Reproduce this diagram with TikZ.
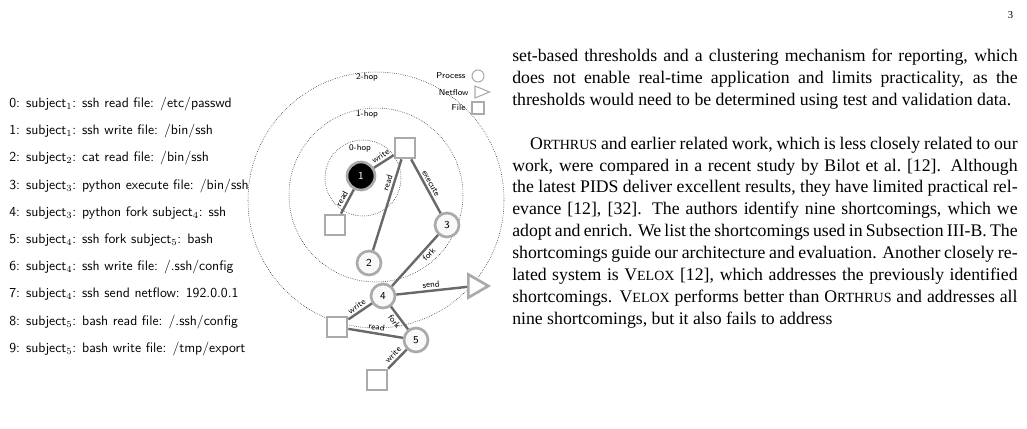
\documentclass[tikz,border=0pt]{standalone}
\usepackage{fontspec}
\setmainfont{Liberation Serif}
\usetikzlibrary{arrows.meta,shapes.geometric,positioning}
\definecolor{edgegray}{HTML}{686868}
\definecolor{nodegray}{HTML}{AAAAAA}
\newcommand{\smc}[2]{#1{\fontsize{10.5}{12}\selectfont #2}}
\begin{document}
\begin{tikzpicture}[x=0.75pt,y=-0.75pt,
		proc/.style={draw=nodegray,line width=2pt,circle,fill=gray!5,minimum size=18pt,inner sep=0,font=\sffamily\fontsize{8}{9}\selectfont},
		fil/.style={draw=nodegray,line width=2pt,rectangle,fill=white,minimum size=15pt,inner sep=0},
		flow/.style={draw=nodegray,line width=2pt,isosceles triangle,fill=white,minimum size=15pt,inner sep=0,isosceles triangle apex angle=60},
		hop/.style={draw,densely dotted,thin},
		edge/.style={draw=edgegray,line width=1.8pt},
		lbl/.style={font=\sffamily\fontsize{6.5}{7}\selectfont,sloped,above,inner sep=1.5pt},
		logline/.style={anchor=west,font=\sffamily\fontsize{10.3}{11}\selectfont,inner sep=0},
		>=latex
		]
		\useasboundingbox (0,0) rectangle (1027,428);
		\node[anchor=north east,font=\fontsize{8}{9}\selectfont] (pagenum) at (1018,7) {3};
		% event log
		\foreach \i/\t in {
			0/{0: subject$_1$: ssh read file: /etc/passwd},
			1/{1: subject$_1$: ssh write file: /bin/ssh},
			2/{2: subject$_2$: cat read file: /bin/ssh},
			3/{3: subject$_3$: python execute file: /bin/ssh},
			4/{4: subject$_3$: python fork subject$_4$: ssh},
			5/{5: subject$_4$: ssh fork subject$_5$: bash},
			6/{6: subject$_4$: ssh write file: /.ssh/config},
			7/{7: subject$_4$: ssh send netflow: 192.0.0.1},
			8/{8: subject$_5$: bash read file: /.ssh/config},
			9/{9: subject$_5$: bash write file: /tmp/export}}
		\node[logline] (log\i) at (9,{104+27.2*\i}) {\t};
		% hop rings
		\draw[hop] (376,200) circle[radius=128];
		\draw[hop] (376,195) circle[radius=87];
		\draw[hop] (363,178) circle[radius=38];
		\node[font=\sffamily\fontsize{6.5}{7}\selectfont] (hop2) at (367,77) {2-hop};
		\node[font=\sffamily\fontsize{6.5}{7}\selectfont] (hop1) at (367,114) {1-hop};
		\node[font=\sffamily\fontsize{6.5}{7}\selectfont] (hop0) at (360,148) {0-hop};
		% legend
		\node[draw=nodegray,thick,circle,minimum size=9pt,inner sep=0] (lgp) at (478,76) {};
		\node[draw=nodegray,thick,isosceles triangle,minimum size=9pt,inner sep=0] (lgn) at (479,92) {};
		\node[draw=nodegray,thick,rectangle,minimum size=9pt,inner sep=0] (lgf) at (478,108) {};
		\node[font=\sffamily\fontsize{6.5}{7}\selectfont,left=1pt of lgp] {Process};
		\node[font=\sffamily\fontsize{6.5}{7}\selectfont,left=1pt of lgn] {Netflow};
		\node[font=\sffamily\fontsize{6.5}{7}\selectfont,left=1pt of lgf] {File};
		% graph
		\node[proc,fill=black,text=white,minimum size=21pt] (p1) at (361,176) {1};
		\node[fil] (fbin) at (405,148) {};
		\node[fil] (fpwd) at (335,225) {};
		\node[proc] (p2) at (369,263) {2};
		\node[proc] (p3) at (447,225) {3};
		\node[proc] (p4) at (383,296) {4};
		\node[flow] (net) at (475,286) {};
		\node[fil] (fcfg) at (337,327) {};
		\node[proc] (p5) at (416,340) {5};
		\node[fil] (fexp) at (377,380) {};
		\draw[edge] (fpwd) -- node[lbl] {read} (p1);
		\draw[edge] (p1) -- node[lbl] {write} (fbin);
		\draw[edge] (p2) -- node[lbl,pos=0.72] {read} (fbin);
		\draw[edge] (fbin) -- node[lbl] {execute} (p3);
		\draw[edge] (p4) -- node[lbl,pos=0.7,below] {fork} (p3);
		\draw[edge] (p4) -- node[lbl] {send} (net);
		\draw[edge] (fcfg) -- node[lbl] {write} (p4);
		\draw[edge] (p4) -- node[lbl,below] {fork} (p5);
		\draw[edge] (fcfg) -- node[lbl] {read} (p5);
		\draw[edge] (fexp) -- node[lbl] {write} (p5);
		% body text
		\node[anchor=north west,text width=379pt,align=justify,inner sep=0,font=\fontsize{13.3}{16.4}\selectfont] (body) at (512,49) {%
			set-based thresholds and a clustering mechanism for reporting, which does not enable real-time application and limits practicality, as the thresholds would need to be determined using test and validation data.\par\vspace{16.4pt}
			\hspace*{1em}\smc{O}{RTHRUS} and earlier related work, which is less closely related to our work, were compared in a recent study by Bilot et al.~[12]. Although the latest PIDS deliver excellent results, they have limited practical relevance [12], [32]. The authors identify nine shortcomings, which we adopt and enrich. We list the shortcomings used in Subsection III-B. The shortcomings guide our architecture and evaluation. Another closely related system is \smc{V}{ELOX} [12], which addresses the previously identified shortcomings. \smc{V}{ELOX} performs better than \smc{O}{RTHRUS} and addresses all nine shortcomings, but it also fails to address};
\end{tikzpicture}
\end{document}
